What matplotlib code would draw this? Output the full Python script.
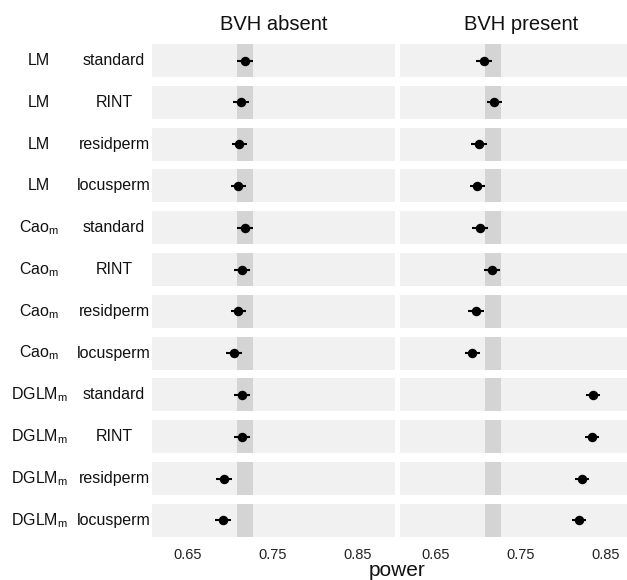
import numpy as np
import matplotlib
matplotlib.use("Agg")
import matplotlib.pyplot as plt

plt.rcParams['font.family'] = ['Liberation Sans', 'DejaVu Sans']
plt.rcParams['mathtext.fontset'] = 'custom'
plt.rcParams['mathtext.rm'] = 'Liberation Sans'
plt.rcParams['mathtext.it'] = 'Liberation Sans'

# data
models = ['LM', 'LM', 'LM', 'LM',
          r'Cao$_{\mathrm{m}}$', r'Cao$_{\mathrm{m}}$', r'Cao$_{\mathrm{m}}$', r'Cao$_{\mathrm{m}}$',
          r'DGLM$_{\mathrm{m}}$', r'DGLM$_{\mathrm{m}}$', r'DGLM$_{\mathrm{m}}$', r'DGLM$_{\mathrm{m}}$']
methods = ['standard', 'RINT', 'residperm', 'locusperm'] * 3
facets = ['BVH absent', 'BVH present']

power_absent = [0.717, 0.7124, 0.7104, 0.7092, 0.717, 0.7132,
                0.7092, 0.7041, 0.7132, 0.7132, 0.6924, 0.6908]
power_present = [0.7061, 0.7186, 0.7002, 0.6986, 0.7014, 0.7162,
                 0.6971, 0.6927, 0.8344, 0.8332, 0.8215, 0.8182]
err_absent = [0.0092] * 12
err_present = [0.0092] * 8 + [0.008] * 4

band_lo = 0.708
band_hi = 0.726
xticks = [0.65, 0.75, 0.85]
xlim = (0.6076, 0.8935)

W, H = 627, 580
fig = plt.figure(figsize=(W / 100, H / 100), dpi=100)

col_x = [152, 400]
col_w = 243
row_top0 = 44
row_pitch = 41.8
row_h = 33

series = [(power_absent, err_absent), (power_present, err_present)]

for c in range(2):
    vals, errs = series[c]
    for r in range(12):
        top = row_top0 + r * row_pitch
        ax = fig.add_axes([col_x[c] / W, 1 - (top + row_h) / H, col_w / W, row_h / H])
        ax.set_facecolor('#f1f1f1')
        for s in ax.spines.values():
            s.set_visible(False)
        ax.axvspan(band_lo, band_hi, color='#d4d4d4', lw=0)
        ax.errorbar([vals[r]], [0], xerr=[errs[r]], fmt='o', color='black',
                    ms=5.8, elinewidth=1.5, capsize=0)
        ax.set_xlim(*xlim)
        ax.set_ylim(-1, 1)
        ax.set_yticks([])
        ax.set_xticks(xticks)
        ax.tick_params(axis='x', length=0, pad=8, labelsize=10.5, colors='#222222')
        if r < 11:
            ax.set_xticklabels([])
        else:
            ax.set_xticklabels(['%.2f' % t for t in xticks])
        if r == 0:
            ax.set_title(facets[c], fontsize=14.5, pad=10, color='#111111')

        if c == 0:
            yc = 1 - (top + row_h / 2) / H
            fig.text(39 / W, yc, models[r], ha='center', va='center', fontsize=11.5, color='#111111')
            fig.text(114 / W, yc, methods[r], ha='center', va='center', fontsize=11.5, color='#111111')

fig.text(397.5 / W, 1 - 570 / H, 'power', ha='center', va='center', fontsize=15, color='#111111')

fig.savefig('out.png', dpi=100)
